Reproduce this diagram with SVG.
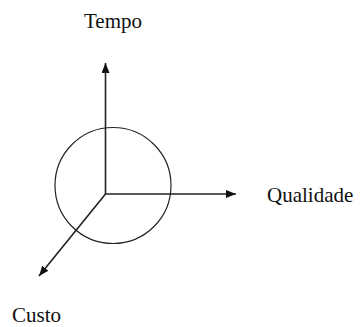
<svg xmlns="http://www.w3.org/2000/svg" width="360" height="327" viewBox="0 0 360 327">
<style>
.lbl{font-family:"Liberation Serif","Times New Roman",serif;font-size:21px;fill:#111}
.ax{stroke:#222;stroke-width:1.6;fill:none}
</style>
<defs>
<marker id="ah" viewBox="0 0 10 8" refX="10" refY="4" markerWidth="10" markerHeight="8" markerUnits="userSpaceOnUse" orient="auto">
<path d="M0,0 L10,4 L0,8 z" fill="#111"/>
</marker>
</defs>
<rect width="360" height="327" fill="#fff"/>
<g id="circle"><circle cx="113" cy="185.5" r="58" fill="none" stroke="#222" stroke-width="1.2"/></g>
<g id="connectors">
<line class="ax" x1="105.5" y1="194" x2="105.5" y2="63" marker-end="url(#ah)"/>
<line class="ax" x1="105.5" y1="194" x2="236" y2="194" marker-end="url(#ah)"/>
<line class="ax" x1="105.5" y1="194" x2="39" y2="276" marker-end="url(#ah)"/>
</g>
<g id="tempo"><text class="lbl" x="84" y="28">Tempo</text></g>
<g id="qualidade"><text class="lbl" x="267" y="202">Qualidade</text></g>
<g id="custo"><text class="lbl" x="12" y="322">Custo</text></g>
</svg>
